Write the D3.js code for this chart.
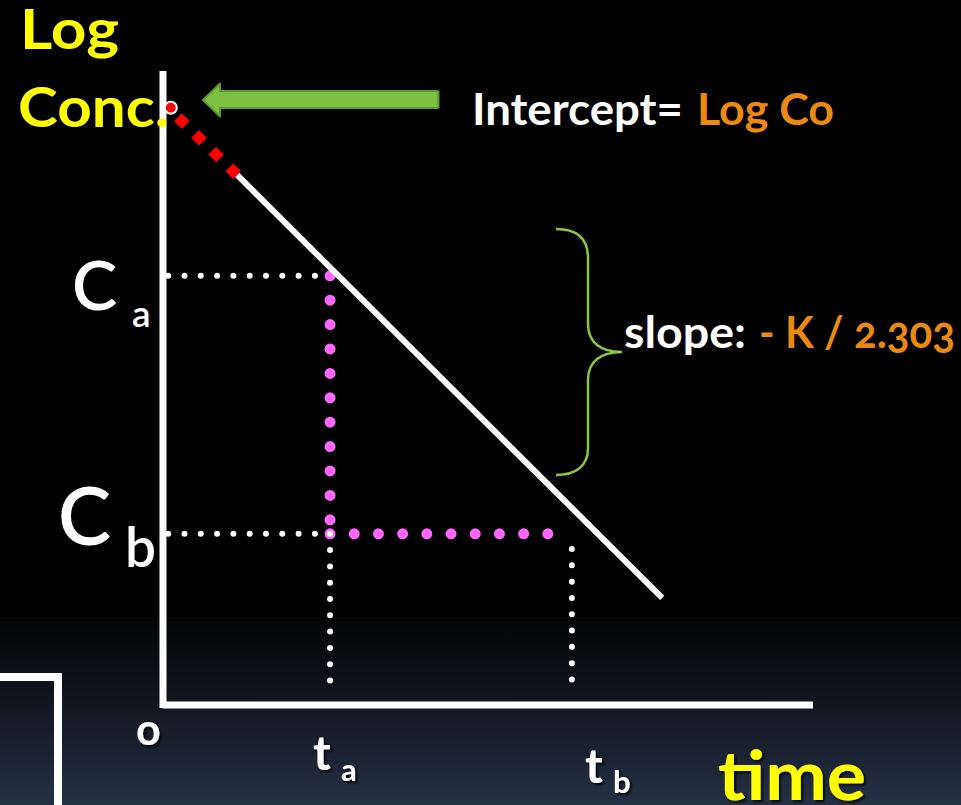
<!DOCTYPE html>
<html>
<head>
<meta charset="utf-8">
<script src="https://cdn.jsdelivr.net/npm/d3@7"></script>
<style>
  html, body { margin: 0; padding: 0; background: #000; }
  svg { display: block; }
  text { font-family: 'Lato', 'Open Sans', sans-serif; font-weight: 700; }
</style>
</head>
<body>
<script>
// ---- data (diagram units: time 0..100, log conc 0..100) ----
const axisMax = [100, 100];
const interceptPoint = [1.2, 94.2];          // Log Co on the y axis
const dashedSegment = [[2.3, 92.7], [11.4, 83.6]]; // red dashed extrapolation
const lineSegment = [[11.4, 83.6], [76.8, 16.9]];  // measured straight line
const timePoints = [25.7, 62.9];             // t a, t b
const concLevels = [67.7, 27.0];             // C a, C b
const dottedStart = 0.8;
const dottedBottom = 3.6;
const pinkEnd = 59.4;
const tbDotTop = 24.6;
const yTitle = ["Log", "Conc."];
const xTitle = "time";
const originLabel = "o";
const timeLabels = [["t", "a"], ["t", "b"]];
const concLabels = [["C", "a"], ["C", "b"]];
const interceptText = ["Intercept=", "Log Co"];
const slopeText = ["slope:", "- K / 2.303"];

const W = 961, H = 805;
const svg = d3.select("body").append("svg").attr("width", W).attr("height", H);
const defs = svg.append("defs");
const grad = defs.append("linearGradient").attr("id", "bg").attr("x1", 0).attr("y1", 0).attr("x2", 0).attr("y2", 1);
grad.append("stop").attr("offset", "0%").attr("stop-color", "#040506");
grad.append("stop").attr("offset", "35%").attr("stop-color", "#0e1118");
grad.append("stop").attr("offset", "100%").attr("stop-color", "#243046");
const sh = defs.append("filter").attr("id", "shadow").attr("x", "-20%").attr("y", "-20%").attr("width", "160%").attr("height", "160%");
sh.append("feDropShadow").attr("dx", 2).attr("dy", 2).attr("stdDeviation", 1.2).attr("flood-color", "#000").attr("flood-opacity", 0.9);

svg.append("rect").attr("width", W).attr("height", H).attr("fill", "#000");
svg.append("rect").attr("x", 0).attr("y", 617).attr("width", W).attr("height", H - 617).attr("fill", "url(#bg)");

// left decorative box
svg.append("path").attr("d", "M-10,677 H58 V815").attr("fill", "none").attr("stroke", "#fff").attr("stroke-width", 8);

const x = d3.scaleLinear().domain([0, axisMax[0]]).range([163, 813]);
const y = d3.scaleLinear().domain([0, axisMax[1]]).range([705, 71]);

// axes
svg.append("line").attr("x1", x(0)).attr("y1", y(axisMax[1])).attr("x2", x(0)).attr("y2", y(0) + 3)
  .attr("stroke", "#fff").attr("stroke-width", 7);
svg.append("line").attr("x1", x(0)).attr("y1", y(0)).attr("x2", x(axisMax[0])).attr("y2", y(0))
  .attr("stroke", "#fff").attr("stroke-width", 7);

function dotted(x1, y1, x2, y2, color, w, gap) {
  svg.append("line").attr("x1", x1).attr("y1", y1).attr("x2", x2).attr("y2", y2)
    .attr("stroke", color).attr("stroke-width", w).attr("stroke-linecap", "round")
    .attr("stroke-dasharray", `0,${gap}`);
}
// white dotted from y axis at Ca
dotted(x(dottedStart), y(concLevels[0]), x(timePoints[0]), y(concLevels[0]), "#fff", 6, 16.3);
// pink vertical and horizontal
dotted(x(timePoints[0]), y(concLevels[0]), x(timePoints[0]), y(concLevels[1]), "#ff66ff", 11, 24.4);
dotted(x(timePoints[0]), y(concLevels[1]), x(pinkEnd), y(concLevels[1]), "#ff66ff", 11, 24.2);
// white dotted at Cb
dotted(x(dottedStart), y(concLevels[1]), x(timePoints[0]) - 8, y(concLevels[1]), "#fff", 6, 16.3);
// white dotted verticals to the time axis
dotted(x(timePoints[0]), y(concLevels[1]), x(timePoints[0]), y(dottedBottom), "#fff", 6, 16.3);
dotted(x(timePoints[1]), y(tbDotTop), x(timePoints[1]), y(dottedBottom), "#fff", 6, 16.3);

// main line
svg.append("line").attr("x1", x(lineSegment[0][0])).attr("y1", y(lineSegment[0][1]))
  .attr("x2", x(lineSegment[1][0])).attr("y2", y(lineSegment[1][1]))
  .attr("stroke", "#fff").attr("stroke-width", 6);
// red dashed extrapolation
svg.append("line").attr("x1", x(dashedSegment[0][0])).attr("y1", y(dashedSegment[0][1]))
  .attr("x2", x(dashedSegment[1][0])).attr("y2", y(dashedSegment[1][1]))
  .attr("stroke", "#ff0000").attr("stroke-width", 11).attr("stroke-dasharray", "11,12.9");

// y title
const yt = svg.append("text").attr("fill", "#ffff00").attr("font-size", 56);
yt.append("tspan").attr("x", 20).attr("y", 49).attr("textLength", 99).attr("lengthAdjust", "spacingAndGlyphs").text(yTitle[0]);
yt.append("tspan").attr("x", 18).attr("y", 127).attr("textLength", 151).attr("lengthAdjust", "spacingAndGlyphs").text(yTitle[1]);

// intercept marker
svg.append("circle").attr("cx", x(interceptPoint[0])).attr("cy", y(interceptPoint[1])).attr("r", 6)
  .attr("fill", "#ff0000").attr("stroke", "#fff").attr("stroke-width", 2);

// green arrow
svg.append("path").attr("d", "M203,100 L220,83.5 L220,91 L437,91 Q438.5,91 438.5,92.5 L438.5,106.5 Q438.5,108 437,108 L220,108 L220,116.5 Z")
  .attr("fill", "#7cc142").attr("stroke", "#5b9a31").attr("stroke-width", 2).attr("stroke-linejoin", "round");

// intercept text
const it = svg.append("text").attr("font-size", 44).attr("y", 125);
it.append("tspan").attr("x", 472).attr("fill", "#fff").attr("textLength", 211).attr("lengthAdjust", "spacingAndGlyphs").text(interceptText[0]);
it.append("tspan").attr("x", 697).attr("fill", "#ea8a10").attr("textLength", 137).attr("lengthAdjust", "spacingAndGlyphs").text(interceptText[1]);

// brace
svg.append("path")
  .attr("d", "M556,229 C576,229 588,238 588,258 L588,324 C588,342 600,352 622,352 C600,352 588,362 588,380 L588,448 C588,466 576,475 556,475")
  .attr("fill", "none").attr("stroke", "#8cc63f").attr("stroke-width", 2.5);

// slope text
const st = svg.append("text").attr("font-size", 43).attr("y", 348).style("font-variant-numeric", "oldstyle-nums");
st.append("tspan").attr("x", 624).attr("fill", "#fff").attr("textLength", 122).attr("lengthAdjust", "spacingAndGlyphs").text(slopeText[0]);
st.append("tspan").attr("x", 759).attr("fill", "#ea8a10").attr("textLength", 196).attr("lengthAdjust", "spacingAndGlyphs").text(slopeText[1]);

// conc labels
const cSizes = [[68, 37], [80, 55]];
const cPos = [[72, 310, 132, 327], [58, 545, 125, 567]];
concLabels.forEach((lab, i) => {
  svg.append("text").attr("fill", "#fff").attr("font-size", cSizes[i][0]).attr("x", cPos[i][0]).attr("y", cPos[i][1])
    .style("font-weight", 600).text(lab[0]);
  svg.append("text").attr("fill", "#fff").attr("font-size", cSizes[i][1]).attr("x", cPos[i][2]).attr("y", cPos[i][3])
    .style("font-weight", 600).text(lab[1]);
});

// origin + time labels
svg.append("text").attr("fill", "#fff").attr("font-size", 43).attr("x", 136).attr("y", 745)
  .attr("filter", "url(#shadow)").text(originLabel);
const tPos = [[313, 770, 341, 781], [585, 783, 613, 793]];
timeLabels.forEach((lab, i) => {
  svg.append("text").attr("fill", "#fff").attr("font-size", 48).attr("x", tPos[i][0]).attr("y", tPos[i][1])
    .attr("filter", "url(#shadow)").text(lab[0]);
  svg.append("text").attr("fill", "#fff").attr("font-size", 31).attr("x", tPos[i][2]).attr("y", tPos[i][3])
    .attr("filter", "url(#shadow)").text(lab[1]);
});
svg.append("text").attr("fill", "#ffff00").attr("font-size", 69).attr("x", 718).attr("y", 800)
  .attr("textLength", 148).attr("lengthAdjust", "spacingAndGlyphs")
  .attr("filter", "url(#shadow)").text(xTitle);
</script>
</body>
</html>
